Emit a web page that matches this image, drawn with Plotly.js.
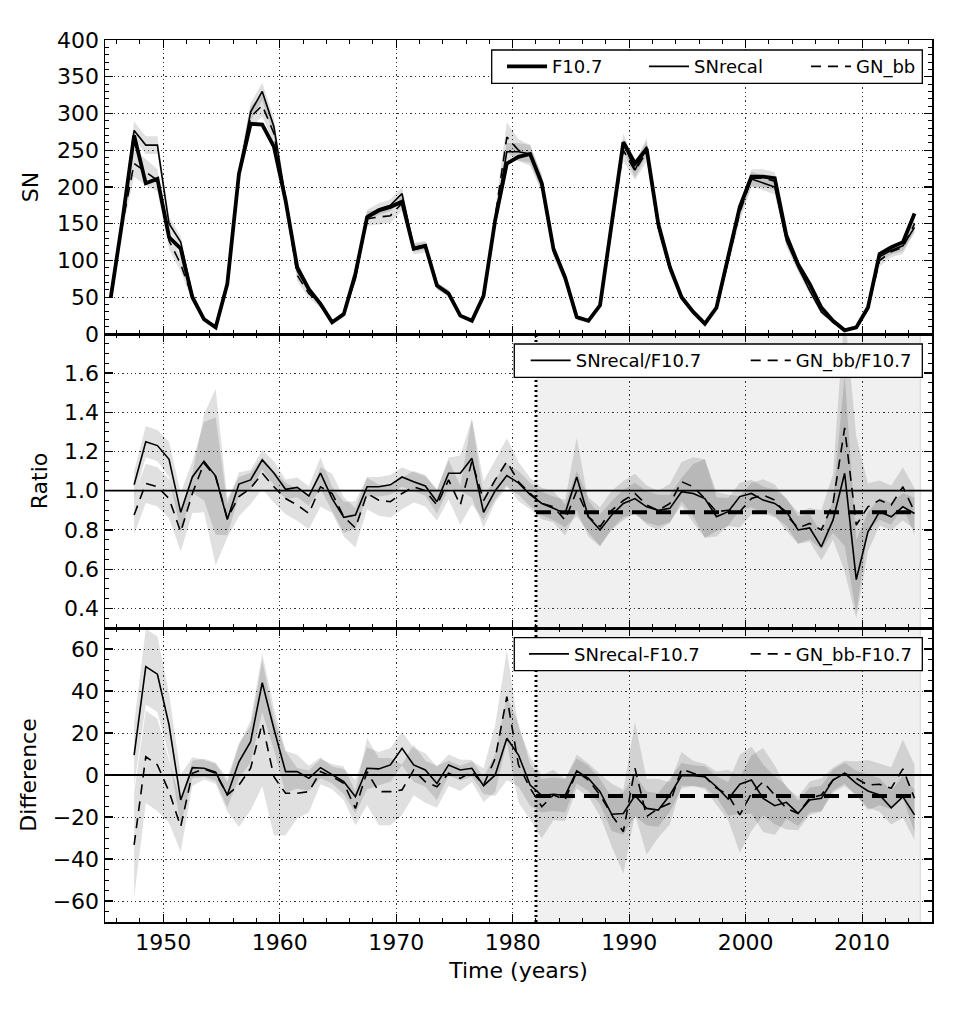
<!DOCTYPE html>
<html><head><meta charset="utf-8">
<script src="https://cdn.plot.ly/plotly-3.0.1.min.js"></script>
<style>html,body{margin:0;padding:0;background:#fff}</style>
</head><body><div id="chart" style="width:957px;height:1013px"></div>
<script>
// ---------- data ----------
const firstYear = 1945.5;
const snYears = Array.from({length:70}, (_, i) => firstYear + i);   // 1945.5 .. 2014.5
const cmpYears = snYears.slice(2);                                  // 1947.5 .. 2014.5

const f107 = [50,155,270,205,211,132,116,50,20,9,68,218,286,285,255,182,91,61,41,16,27,82,159,168,173,180,116,120,66,55,25,18,52,155,232,241,245,205,116,77,23,18,39,150,261,232,252,150,91,50,30,14,36,105,173,214,214,212,134,95,68,36,18,5,9,36,109,118,125,164];
const snRecal = [50,155,277,257,257,150,125,52,20,9,68,218,302,330,282,185,86,60,40,16,28,75,161,170,175,191,118,121,65,56,25,18,50,155,248,248,245,205,115,75,22,18,40,150,261,223,255,145,88,50,30,14,35,100,170,211,205,200,127,91,59,30,16,5,8,34,105,114,120,145];
const gnBB = [50,150,232,220,209,127,95,50,20,9,68,218,295,311,273,180,80,55,40,16,26,80,157,159,161,178,115,118,66,55,25,18,50,160,268,250,243,205,112,75,22,18,40,145,250,222,248,145,88,50,30,14,34,100,165,212,212,208,130,93,65,34,17,6,9,35,100,112,118,150];
const snRecalErr = [4,8,12,12,12,10,8,5,3,2,5,10,12,12,12,10,6,5,4,2,3,5,8,8,8,9,6,6,4,4,3,2,4,8,12,12,12,10,7,5,3,2,3,8,12,10,12,8,6,4,3,2,3,6,9,10,10,10,8,6,5,3,2,1,2,3,6,6,7,8];
const gnBBErr = [5,10,18,18,15,12,10,6,4,3,6,12,15,15,14,12,8,6,4,3,4,6,10,10,10,10,7,7,5,5,3,3,5,10,20,15,14,12,8,6,3,3,4,10,15,12,14,10,7,5,3,2,4,8,12,12,12,12,9,7,5,4,3,2,3,4,8,8,9,10];

const ratioRecal = [1.03,1.25,1.23,1.16,0.89,1.07,1.15,1.075,0.853,1.034,1.055,1.157,1.09,1.007,1.017,0.973,1.09,0.96,0.864,0.876,1.02,1.02,1.03,1.07,1.046,1.024,0.944,1.089,1.089,1.165,0.89,1.0,1.077,1.04,0.98,0.935,0.91,0.884,1.07,0.867,0.80,0.876,0.935,0.96,0.918,0.90,0.91,0.995,0.986,0.96,0.867,0.893,0.97,0.986,0.952,0.935,0.893,0.80,0.81,0.714,0.85,1.089,0.547,0.79,0.893,0.867,0.918,0.884];
const ratioGN = [0.876,1.037,1.02,0.96,0.79,0.986,1.14,1.07,0.86,0.97,1.012,1.089,1.02,0.96,0.927,0.884,1.02,0.986,0.867,0.81,0.986,0.952,0.944,0.986,1.02,1.0,0.927,1.055,0.927,1.15,0.95,1.055,1.148,1.046,0.986,0.935,0.918,0.85,1.0,0.867,0.816,0.90,0.95,0.986,0.927,0.90,0.935,1.046,1.02,0.96,0.893,0.90,0.893,0.96,0.978,0.952,0.876,0.81,0.833,0.80,0.935,1.32,0.825,0.918,0.952,0.927,1.02,0.893];
const ratioRecalErr = [0.07,0.08,0.08,0.09,0.1,0.08,0.2,0.3,0.08,0.06,0.05,0.05,0.06,0.05,0.05,0.05,0.08,0.06,0.08,0.07,0.05,0.05,0.05,0.05,0.05,0.05,0.06,0.08,0.09,0.2,0.08,0.06,0.06,0.06,0.06,0.06,0.06,0.07,0.2,0.08,0.08,0.07,0.07,0.08,0.08,0.08,0.07,0.07,0.15,0.2,0.1,0.07,0.07,0.07,0.07,0.07,0.07,0.07,0.07,0.07,0.1,0.5,0.2,0.1,0.07,0.07,0.07,0.08];
const ratioGNErr = [0.1,0.1,0.1,0.1,0.1,0.1,0.25,0.45,0.1,0.1,0.08,0.08,0.08,0.08,0.08,0.08,0.1,0.1,0.1,0.1,0.08,0.08,0.08,0.08,0.08,0.08,0.08,0.1,0.1,0.22,0.1,0.1,0.12,0.1,0.08,0.08,0.08,0.08,0.1,0.1,0.1,0.1,0.1,0.1,0.1,0.1,0.1,0.1,0.15,0.2,0.1,0.08,0.08,0.08,0.08,0.08,0.08,0.08,0.08,0.1,0.15,0.6,0.45,0.12,0.1,0.1,0.1,0.12];

const diffRecal = [9.5,51.6,48,23.8,-11.9,3.5,3.2,1.3,-9.5,6.3,15.9,44,22,1.6,1.6,-1.6,3.5,0,-3.2,-10.3,3.2,2.9,4.8,12.7,4.8,2.4,-4,4.8,2.4,3.2,-5.1,0,17.5,9.5,-4.8,-9.8,-9.2,-9.8,1.9,-1.6,-7.9,-18.7,-18.3,-9.8,-15.9,-16.7,-9.5,-0.3,-0.3,-0.8,-5.6,-11.4,-4.4,-2.4,-11.1,-14.6,-13,-18.3,-11.9,-11.1,-2.4,0.8,-4,-7.6,-9.5,-15.6,-10.3,-19];
const diffGN = [-33.3,8.7,4.8,-7.9,-24.6,0.8,2.9,0.8,-9.5,-4.8,3.2,24.6,-0.8,-8.7,-8.7,-7.9,1.6,-0.8,-4,-15.9,1.6,-7.9,-7.9,-7.1,2.4,-3.2,-5.6,0.8,-1.6,1.6,-4.8,7.9,37.3,4.8,-6.3,-15.1,-9.5,-11.9,1.6,-2.4,-9.5,-19,-27,3.2,-19.8,-15.9,-13.5,2.9,0.8,-0.8,-6.3,-9.5,-19,-8.7,-3.2,-9.5,-15.9,-18.3,-11.1,-9.5,-2.4,0.8,-1.6,-4.8,-4.4,-6.3,2.9,-11.1];
const diffRecalErr = [15,18,18,15,12,5,4,4,6,8,10,14,10,10,8,6,5,4,6,8,10,8,8,8,8,8,8,5,5,4,4,10,20,15,10,8,8,8,6,6,6,8,10,10,8,8,8,6,5,5,5,8,14,16,16,14,8,6,6,6,5,5,6,8,8,8,10,12];
const diffGNErr = [25,22,22,15,12,6,5,5,8,20,20,30,28,20,12,10,6,6,8,8,16,16,16,12,12,10,10,6,6,5,8,16,22,18,15,15,12,10,8,8,10,15,20,22,18,14,10,8,6,6,8,12,18,18,16,14,10,8,8,8,6,6,8,12,10,10,14,16];

const breakYear = 1982;          // start of the shaded comparison period
const shadeEndYear = 2015;
const meanEndYear = 2014.5;
const meanRatioGN = 0.89;
const meanDiffGN = -10;

// ---------- styling ----------
const FONT = 'DejaVu Sans, Verdana, sans-serif';
const BAND = 'rgba(0,0,0,0.12)';
const DASH = '10px,7px';

function band(x, v, e, xa, ya) {
  const lo = v.map((d, i) => d - e[i]);
  const hi = v.map((d, i) => d + e[i]);
  return [
    {x: x, y: lo, xaxis: xa, yaxis: ya, type: 'scatter', mode: 'lines', line: {width: 0, color: 'rgba(0,0,0,0)'}, showlegend: false, hoverinfo: 'skip'},
    {x: x, y: hi, xaxis: xa, yaxis: ya, type: 'scatter', mode: 'lines', line: {width: 0, color: 'rgba(0,0,0,0)'}, fill: 'tonexty', fillcolor: BAND, showlegend: false, hoverinfo: 'skip'}
  ];
}
function line(x, y, xa, ya, name, width, dash, legend) {
  return {x: x, y: y, xaxis: xa, yaxis: ya, type: 'scatter', mode: 'lines', name: name,
    line: {color: '#000', width: width, dash: dash || 'solid'}, legend: legend, showlegend: !!legend};
}

const traces = [].concat(
  band(snYears, gnBB, gnBBErr, 'x', 'y'),
  band(snYears, snRecal, snRecalErr, 'x', 'y'),
  [line(snYears, f107, 'x', 'y', 'F10.7', 3.8, null, 'legend'),
   line(snYears, snRecal, 'x', 'y', 'SNrecal', 1.6, null, 'legend2'),
   line(snYears, gnBB, 'x', 'y', 'GN_bb', 1.6, DASH, 'legend3')],
  band(cmpYears, ratioGN, ratioGNErr, 'x2', 'y2'),
  band(cmpYears, ratioRecal, ratioRecalErr, 'x2', 'y2'),
  [line(cmpYears, ratioRecal, 'x2', 'y2', 'SNrecal/F10.7', 1.6, null, 'legend4'),
   line(cmpYears, ratioGN, 'x2', 'y2', 'GN_bb/F10.7', 1.6, DASH, 'legend5'),
   line([breakYear, meanEndYear], [meanRatioGN, meanRatioGN], 'x2', 'y2', 'mean', 4, '15px,9px', null)],
  band(cmpYears, diffGN, diffGNErr, 'x3', 'y3'),
  band(cmpYears, diffRecal, diffRecalErr, 'x3', 'y3'),
  [line(cmpYears, diffRecal, 'x3', 'y3', 'SNrecal-F10.7', 1.6, null, 'legend6'),
   line(cmpYears, diffGN, 'x3', 'y3', 'GN_bb-F10.7', 1.6, DASH, 'legend7'),
   line([breakYear, meanEndYear], [meanDiffGN, meanDiffGN], 'x3', 'y3', 'mean', 4, '15px,9px', null)]
);

const axisBase = {
  showline: true, linecolor: '#000', linewidth: 1.5, mirror: 'allticks',
  ticks: 'inside', ticklen: 8, tickwidth: 1.2, tickcolor: '#000',
  showgrid: true, gridcolor: '#333', gridwidth: 1, griddash: '1.3px,3px',
  zeroline: false, tickfont: {family: FONT, size: 22, color: '#000'}
};
const minor = (dt, t0) => ({ticks: 'inside', ticklen: 4, tickwidth: 1, tickcolor: '#000', dtick: dt, tick0: t0, showgrid: false});
const xCommon = Object.assign({}, axisBase, {range: [1945, 2016], tickmode: 'linear', tick0: 1950, dtick: 10, minor: minor(2, 1946)});

const W = 957, H = 1013, ML = 105, MR = 25, MT = 40, MB = 91;
const PW = W - ML - MR, PH = H - MT - MB;
const px = v => (v - ML) / PW;
const py = v => 1 - (v - MT) / PH;

function leg(xpix, ypix) {
  return {x: px(xpix), xanchor: 'left', y: py(ypix), yanchor: 'middle', orientation: 'h',
    bgcolor: 'rgba(0,0,0,0)', borderwidth: 0, itemwidth: 40,
    font: {family: FONT, size: 18, color: '#000'}, itemclick: false, itemdoubleclick: false};
}
function box(x0, y0, x1, y1) {
  return {type: 'rect', xref: 'paper', yref: 'paper', x0: px(x0), x1: px(x1), y0: py(y1), y1: py(y0),
    fillcolor: '#fff', line: {color: '#000', width: 1.3}, layer: 'above'};
}

const layout = {
  width: W, height: H, margin: {l: ML, r: MR, t: MT, b: MB},
  paper_bgcolor: '#fff', plot_bgcolor: '#fff',
  font: {family: FONT, size: 22, color: '#000'},
  xaxis: Object.assign({}, xCommon, {anchor: 'y', matches: 'x3', showticklabels: false}),
  xaxis2: Object.assign({}, xCommon, {anchor: 'y2', matches: 'x3', showticklabels: false}),
  xaxis3: Object.assign({}, xCommon, {anchor: 'y3', title: {text: 'Time (years)', font: {family: FONT, size: 22}, standoff: 8}}),
  yaxis: Object.assign({}, axisBase, {domain: [2/3, 1], anchor: 'x', range: [0, 400], tickmode: 'linear', tick0: 0, dtick: 50, minor: minor(10, 0),
    title: {text: 'SN', font: {family: FONT, size: 22}, standoff: 12}}),
  yaxis2: Object.assign({}, axisBase, {domain: [1/3, 2/3], anchor: 'x2', range: [0.3, 1.799], tickmode: 'linear', tick0: 0.4, dtick: 0.2, tickformat: '.1f', minor: minor(0.05, 0.3),
    title: {text: 'Ratio', font: {family: FONT, size: 22}, standoff: 10}}),
  yaxis3: Object.assign({}, axisBase, {domain: [0, 1/3], anchor: 'x3', range: [-70, 70], tickmode: 'linear', tick0: -60, dtick: 20, minor: minor(5, -70),
    title: {text: 'Difference', font: {family: FONT, size: 22}, standoff: 10}}),
  legend: leg(502, 66.7), legend2: leg(644, 66.7), legend3: leg(806, 66.7),
  legend4: leg(525.7, 360.7), legend5: leg(745.7, 360.7),
  legend6: leg(524, 654.2), legend7: leg(745.7, 654.2),
  shapes: [
    {type: 'rect', xref: 'x2', yref: 'paper', x0: breakYear, x1: shadeEndYear, y0: 0, y1: 2/3,
      fillcolor: '#f0f0f0', line: {width: 0}, layer: 'below'},
    {type: 'line', xref: 'x2', yref: 'paper', x0: shadeEndYear, x1: shadeEndYear, y0: 0, y1: 2/3, line: {color: '#dedede', width: 1.5}, layer: 'below'},
    {type: 'line', xref: 'x2 domain', yref: 'y2', x0: 0, x1: 1, y0: 1, y1: 1, line: {color: '#000', width: 1.8}, layer: 'above'},
    {type: 'line', xref: 'x3 domain', yref: 'y3', x0: 0, x1: 1, y0: 0, y1: 0, line: {color: '#000', width: 1.8}, layer: 'above'},
    {type: 'line', xref: 'x2', yref: 'paper', x0: breakYear, x1: breakYear, y0: 0, y1: 2/3, line: {color: '#000', width: 3, dash: '2px,3px'}, layer: 'above'},
    box(491.7, 50, 922.3, 83.3),
    box(514.3, 344, 922.3, 377.3),
    box(514.3, 637.7, 922.3, 670.7)
  ]
};

Plotly.newPlot('chart', traces, layout, {displayModeBar: false, staticPlot: true});
</script>
</body></html>
